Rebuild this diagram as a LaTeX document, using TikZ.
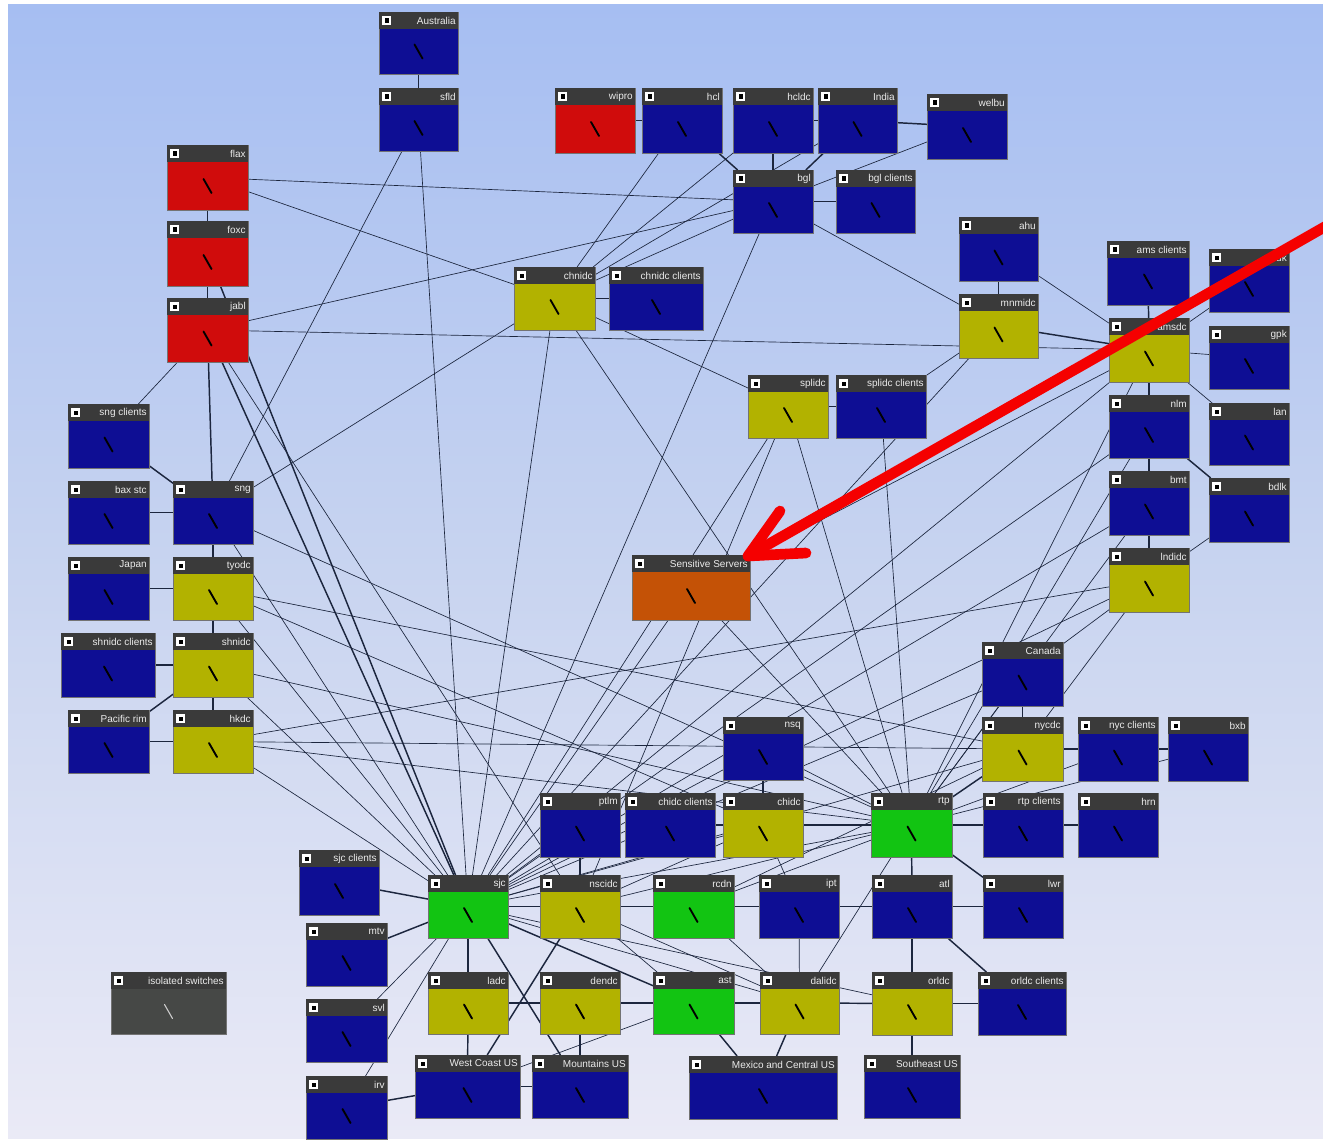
\documentclass[tikz,border=0pt]{standalone}
\usepackage{fontspec}
\newfontfamily\boxfont{Liberation Sans}
\usetikzlibrary{fit}

\definecolor{swblue}{RGB}{14,14,148}
\definecolor{swyellow}{RGB}{178,178,0}
\definecolor{swred}{RGB}{208,12,12}
\definecolor{swgreen}{RGB}{18,196,18}
\definecolor{sworange}{RGB}{196,82,6}
\definecolor{swgray}{RGB}{70,72,70}
\definecolor{swhead}{RGB}{58,58,58}
\definecolor{swline}{RGB}{28,38,62}
\definecolor{bgtop}{RGB}{166,190,242}
\definecolor{bgmid}{RGB}{200,212,240}
\definecolor{bgbot}{RGB}{234,234,246}
\definecolor{markred}{RGB}{245,0,0}

\pgfdeclarelayer{back}
\pgfdeclarelayer{links}
\pgfsetlayers{back,links,main}

% box: [glyph style]{name}{left}{top}{right}{bottom}{body colour}{label}
\newcommand{\swbox}[8][swglyph]{%
  \node[swbody, fill=#7, fit={(#3,#4) (#5,#6)}] (#2) {};
  \fill[swhead] (#3,#4) rectangle (#5,{#4+17});
  \fill[white] ({#3+3},{#4+4}) rectangle ({#3+12},{#4+13});
  \fill[black] ({#3+5.5},{#4+6.5}) rectangle ({#3+10},{#4+11});
  \node[swtext, anchor=east] at ({#5-2},{#4+8.5}) {#8};
  \draw[#1] ({(#3+#5)/2-4},{(#4+17+#6)/2-7}) -- ({(#3+#5)/2+4},{(#4+17+#6)/2+7});
}

\begin{document}
\begin{tikzpicture}[x=0.75pt,y=0.75pt,yscale=-1,xscale=1,
  swbody/.style={inner sep=0pt, outer sep=0pt, draw=black!55, line width=0.3pt},
  swtext/.style={inner sep=0pt, text=white!92!black, font=\boxfont\fontsize{7.5}{8}\selectfont},
  swglyph/.style={black, line width=1.4pt, line cap=round},
  swglyphw/.style={white!80!black, line width=0.8pt, line cap=round},
  link/.style={swline, line width=0.5pt},
  trunk/.style={swline, line width=1.1pt},
  redmark/.style={markred, line width=8pt, line cap=round, line join=round}]
\useasboundingbox (0,0) rectangle (1323,1141);

%Background
\begin{pgfonlayer}{back}
\fill[white] (0,0) rectangle (1323,1141);
\fill[top color=bgtop, bottom color=bgbot, middle color=bgmid] (8,5) rectangle (1323,1138);
\end{pgfonlayer}

%Boxes, top
\swbox{aus}{379}{12}{458}{74}{swblue}{Australia}
\swbox{sfld}{379}{88}{458}{151}{swblue}{sfld}
\swbox{wipro}{555}{88}{635}{153}{swred}{wipro}
\swbox{hcl}{642}{88}{722}{153}{swblue}{hcl}
\swbox{hcldc}{733}{88}{813}{153}{swblue}{hcldc}
\swbox{india}{818}{88}{897}{153}{swblue}{India}
\swbox{welbu}{927}{94}{1007}{159}{swblue}{welbu}
\swbox{bgl}{733}{170}{813}{233}{swblue}{bgl}
\swbox{bglc}{836}{170}{915}{233}{swblue}{bgl clients}
\swbox{flax}{167}{145}{248}{210}{swred}{flax}
\swbox{foxc}{167}{221}{248}{286}{swred}{foxc}
\swbox{jabl}{167}{298}{248}{362}{swred}{jabl}
\swbox{chnidc}{514}{267}{595}{330}{swyellow}{chnidc}
\swbox{chnidcc}{609}{267}{703}{330}{swblue}{chnidc clients}
\swbox{ahu}{959}{217}{1038}{281}{swblue}{ahu}
\swbox{mnmidc}{959}{294}{1038}{358}{swyellow}{mnmidc}
\swbox{amsc}{1107}{241}{1189}{305}{swblue}{ams clients}
\swbox{amsdc}{1109}{318}{1189}{382}{swyellow}{amsdc}
\swbox{dk}{1209}{249}{1289}{312}{swblue}{dk}
\swbox{gpk}{1209}{326}{1289}{389}{swblue}{gpk}
\swbox{splidc}{748}{375}{828}{438}{swyellow}{splidc}
\swbox{splidcc}{836}{375}{926}{438}{swblue}{splidc clients}

%Boxes, right column
\swbox{nlm}{1109}{395}{1189}{458}{swblue}{nlm}
\swbox{lan}{1209}{403}{1289}{465}{swblue}{lan}
\swbox{bmt}{1109}{471}{1189}{535}{swblue}{bmt}
\swbox{bdlk}{1209}{478}{1289}{542}{swblue}{bdlk}
\swbox{lndidc}{1109}{548}{1189}{612}{swyellow}{lndidc}

%Boxes, left column
\swbox{sngc}{68}{404}{149}{468}{swblue}{sng clients}
\swbox{bax}{68}{481}{149}{544}{swblue}{bax stc}
\swbox{sng}{173}{481}{253}{544}{swblue}{sng}
\swbox{japan}{68}{557}{149}{620}{swblue}{Japan}
\swbox{tyodc}{173}{557}{253}{620}{swyellow}{tyodc}
\swbox{shnidcc}{61}{633}{155}{697}{swblue}{shnidc clients}
\swbox{shnidc}{173}{633}{253}{697}{swyellow}{shnidc}
\swbox{pacrim}{68}{710}{149}{773}{swblue}{Pacific rim}
\swbox{hkdc}{173}{710}{253}{773}{swyellow}{hkdc}

%Boxes, middle
\swbox{sens}{632}{555}{750}{620}{sworange}{Sensitive Servers}
\swbox{canada}{982}{642}{1063}{706}{swblue}{Canada}
\swbox{nycdc}{982}{717}{1063}{781}{swyellow}{nycdc}
\swbox{nycc}{1078}{717}{1158}{781}{swblue}{nyc clients}
\swbox{bxb}{1168}{717}{1248}{781}{swblue}{bxb}
\swbox{nsq}{723}{717}{803}{780}{swblue}{nsq}
\swbox{ptlm}{540}{793}{620}{857}{swblue}{ptlm}
\swbox{chidcc}{625}{793}{715}{857}{swblue}{chidc clients}
\swbox{chidc}{723}{793}{803}{857}{swyellow}{chidc}
\swbox{rtp}{871}{793}{952}{857}{swgreen}{rtp}
\swbox{rtpc}{983}{793}{1063}{857}{swblue}{rtp clients}
\swbox{hrn}{1078}{793}{1158}{857}{swblue}{hrn}

%Boxes, bottom
\swbox{sjcc}{299}{850}{379}{915}{swblue}{sjc clients}
\swbox{sjc}{428}{875}{508}{938}{swgreen}{sjc}
\swbox{nscidc}{540}{875}{620}{938}{swyellow}{nscidc}
\swbox{rcdn}{653}{875}{734}{938}{swgreen}{rcdn}
\swbox{ipt}{759}{875}{839}{938}{swblue}{ipt}
\swbox{atl}{872}{875}{952}{938}{swblue}{atl}
\swbox{lwr}{983}{875}{1063}{938}{swblue}{lwr}
\swbox{mtv}{306}{923}{387}{986}{swblue}{mtv}
\swbox{svl}{306}{999}{387}{1062}{swblue}{svl}
\swbox{irv}{306}{1076}{387}{1139}{swblue}{irv}
\swbox[swglyphw]{isol}{111}{972}{226}{1034}{swgray}{isolated switches}
\swbox{ladc}{428}{972}{508}{1034}{swyellow}{ladc}
\swbox{dendc}{540}{972}{620}{1034}{swyellow}{dendc}
\swbox{ast}{653}{972}{734}{1034}{swgreen}{ast}
\swbox{dalidc}{760}{972}{839}{1034}{swyellow}{dalidc}
\swbox{orldc}{872}{972}{952}{1035}{swyellow}{orldc}
\swbox{orldcc}{978}{972}{1066}{1035}{swblue}{orldc clients}
\swbox{wcus}{415}{1055}{520}{1118}{swblue}{West Coast US}
\swbox{mtus}{532}{1055}{628}{1118}{swblue}{Mountains US}
\swbox{mexus}{689}{1056}{837}{1119}{swblue}{Mexico and Central US}
\swbox{seus}{864}{1055}{960}{1118}{swblue}{Southeast US}

%Links
\begin{pgfonlayer}{links}
\foreach \a/\b in {aus/sfld, flax/foxc, foxc/jabl, jabl/sng, sngc/sng, bax/sng,
    sng/tyodc, japan/tyodc, tyodc/shnidc, shnidcc/shnidc, shnidc/hkdc, pacrim/hkdc,
    pacrim/shnidc, wipro/hcl, hcl/bgl, hcldc/bgl, india/bgl, hcldc/india, india/welbu,
    bgl/bglc, chnidc/chnidcc, splidc/splidcc, ahu/mnmidc, amsc/amsdc, amsdc/nlm,
    nlm/bmt, bmt/lndidc, nlm/bdlk, mnmidc/amsdc, canada/nycdc, nycdc/nycc, nycc/bxb,
    nsq/chidc, chidc/chidcc, rtp/rtpc, rtpc/hrn, rtp/atl, rtp/lwr, atl/lwr, atl/orldcc,
    orldc/orldcc, atl/orldc, orldc/seus, sjcc/sjc, mtv/sjc, sjc/nscidc, nscidc/rcdn,
    rcdn/ipt, ipt/atl, sjc/ladc, ladc/dendc, dendc/ast, ast/dalidc, dalidc/orldc,
    ast/mexus, dalidc/mexus, ladc/wcus, dendc/mtus, wcus/mtus, irv/wcus, sjc/mtus,
    nscidc/wcus, jabl/sjc, foxc/sjc, sjc/ast, nycdc/rtp, chidc/rtp, ptlm/nscidc}
  \draw[trunk] (\a) -- (\b);
\foreach \a/\b in {flax/bgl, flax/chnidc, chnidc/splidc, jabl/bgl, jabl/amsdc,
    sngc/jabl, sfld/sjc, sfld/sng, chnidc/hcl, chnidc/hcldc, chnidc/india, chnidc/bgl,
    chnidc/sng, chnidc/sjc, chnidc/rtp, bgl/sjc, bgl/mnmidc, welbu/bgl, splidc/rtp,
    splidcc/rtp, splidc/sjc, splidcc/mnmidc, mnmidc/sjc, ahu/amsdc, amsdc/dk,
    amsdc/gpk, amsdc/lan, lndidc/bdlk, amsdc/sjc, amsdc/rtp, nlm/sjc, nlm/rtp,
    bmt/sjc, lndidc/sjc, lndidc/nycdc, lndidc/canada, hkdc/lndidc, canada/rtp,
    canada/sjc, nycdc/sjc, nycc/rtp, bxb/rtp, sens/sjc, sens/rtp, sens/amsdc,
    tyodc/nycdc, shnidc/rtp, hkdc/nycdc, tyodc/sjc, shnidc/sjc, hkdc/sjc, sng/sjc,
    sng/rtp, tyodc/chidc, chidc/sjc, ptlm/sjc, nsq/sjc, nsq/rtp, chidc/nscidc,
    nscidc/rtp, rcdn/rtp, rcdn/nycdc, sjc/dalidc, nscidc/ast, nscidc/dalidc,
    rcdn/dalidc, chidc/ipt, ipt/dalidc, dalidc/rtp, ast/wcus, sjc/orldc, svl/sjc,
    irv/sjc, sjc/rtp, jabl/nscidc, bmt/rtp, splidc/nscidc, hkdc/rtp}
  \draw[link] (\a) -- (\b);
\end{pgfonlayer}

%Marker arrow
\coordinate (tip) at (748,556);
\coordinate (tail) at (1335,221);
\begin{scope}
\clip (0,0) rectangle (1323,1141);
\draw[redmark] (tail) -- (tip);
\draw[redmark] (780,511) -- (tip) -- (806,553);
\end{scope}

\end{tikzpicture}
\end{document}
